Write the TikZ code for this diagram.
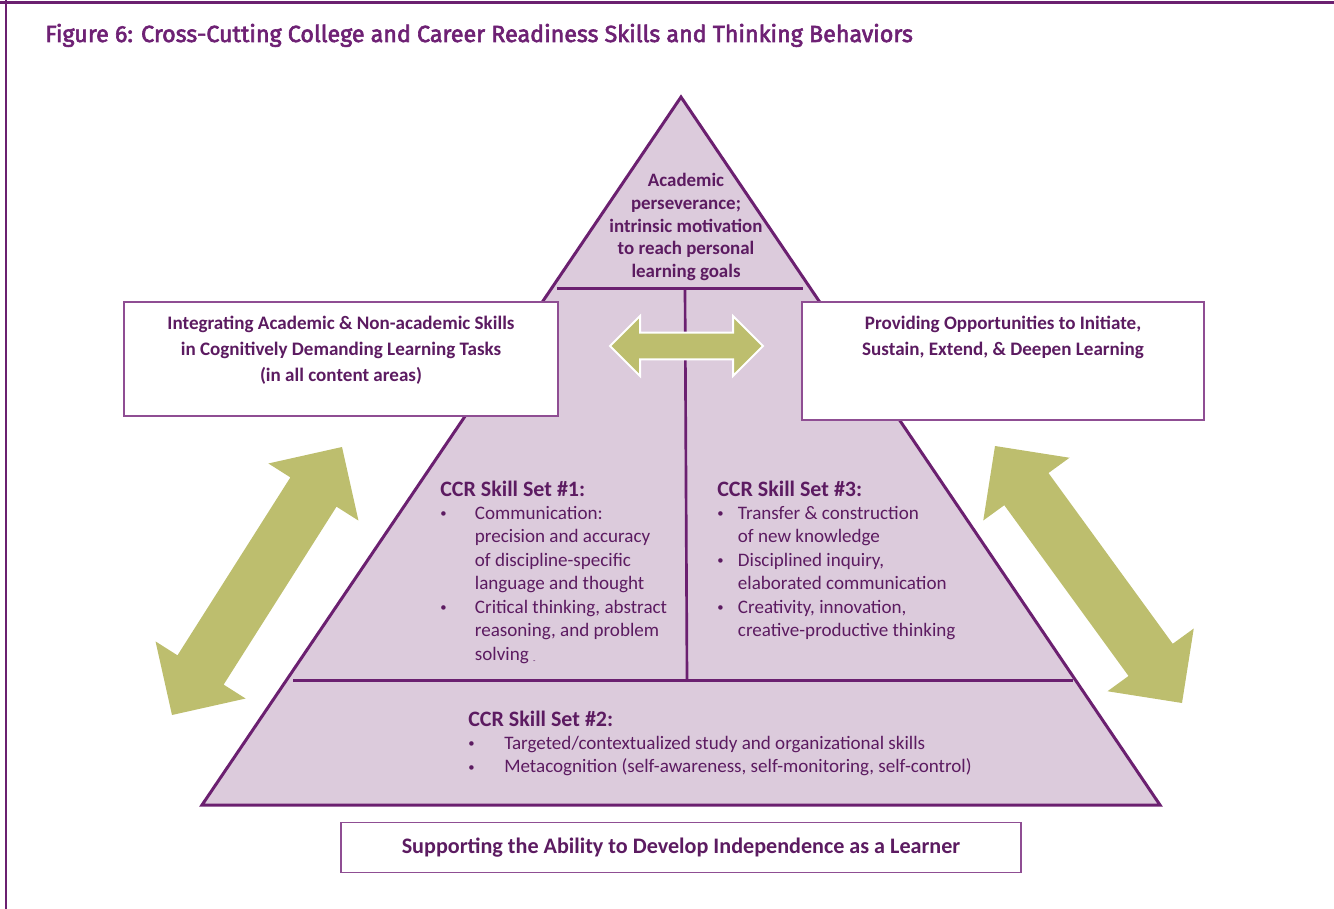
\documentclass[tikz,border=0pt]{standalone}
\usepackage{fontspec}
\setmainfont{Carlito}
\newfontfamily\headingfont[FakeBold=2.6]{Fira Sans}
\usetikzlibrary{calc}

\definecolor{plum}{HTML}{6B2070}
\definecolor{plumtext}{HTML}{5C1B61}
\definecolor{titleplum}{HTML}{6E2174}
\definecolor{lilac}{HTML}{DCCBDC}
\definecolor{boxline}{HTML}{8F4E93}
\definecolor{olive}{HTML}{BDBE6E}

% small list bullet
\newcommand\skillbullet{{\fontsize{9.5}{9.5}\selectfont\raisebox{1.2pt}{\textbullet}}}

% Double-headed block arrow between two tip coordinates:
% #1 style, #2/#3 tips, #4 head length, #5 head half width, #6 shaft half width
\newcommand\oliveArrow[6]{%
  \path ($(#2)!#4!(#3)$) coordinate (#2-base)
        ($(#3)!#4!(#2)$) coordinate (#3-base);
  \path[#1] (#2)
    -- ($(#2-base)!#5!90:(#3)$) -- ($(#2-base)!#6!90:(#3)$)
    -- ($(#3-base)!#6!-90:(#2)$) -- ($(#3-base)!#5!-90:(#2)$)
    -- (#3)
    -- ($(#3-base)!#5!90:(#2)$) -- ($(#3-base)!#6!90:(#2)$)
    -- ($(#2-base)!#6!-90:(#3)$) -- ($(#2-base)!#5!-90:(#3)$)
    -- cycle;
}

\begin{document}
\begin{tikzpicture}[x=0.75pt,y=-0.75pt,
  tri/.style={fill=lilac, draw=plum, line width=2.25pt, line join=miter},
  divider/.style={draw=plum, line width=2.25pt},
  panel/.style={draw=boxline, fill=white, line width=1.1pt, inner sep=0pt},
  paneltext/.style={text=plumtext, font=\bfseries\fontsize{14.3}{19.5}\selectfont, align=center, inner sep=0pt},
  skilltext/.style={text=plumtext, inner sep=0pt, anchor=base west, font=\fontsize{14.3}{17.6}\selectfont},
  bigarrow/.style={fill=olive},
  midarrow/.style={fill=olive, draw=white, line width=1.5pt, line join=miter}]

\useasboundingbox (0,0) rectangle (1334,909);

% page frame
\draw[plum, line width=2.25pt] (0,2.5) -- (1334,2.5);
\draw[plum, line width=1.6pt] (6,0) -- (6,909);

% title
\node[anchor=base west, inner sep=0pt, text=titleplum,
      font=\headingfont\fontsize{17.45}{20}\selectfont] (title) at (45,42)
  {Figure 6: Cross-Cutting College and Career Readiness Skills and Thinking Behaviors};

% pyramid
\coordinate (apex) at (681,97);
\coordinate (bl) at (202,805);
\coordinate (br) at (1160,805);
\path[tri] (apex) -- (bl) -- (br) -- cycle;

\coordinate (tierL) at (557,288);
\coordinate (tierR) at (803,288);
\coordinate (baseL) at (293,680);
\coordinate (baseR) at (1073,680);
\coordinate (splitT) at (685,288);
\coordinate (splitB) at (687,680);
\draw[divider] (tierL) -- (tierR);
\draw[divider] (baseL) -- (baseR);
\draw[plum, line width=2pt] (splitT) -- (splitB);

% side panels
\node[panel, minimum width=325.5pt, minimum height=85.5pt] (lbox) at (341,359) {};
\node[panel, minimum width=301.5pt, minimum height=88.5pt] (rbox) at (1003,361) {};
\node[panel, minimum width=510pt, minimum height=37.5pt] (bbox) at (681,847.5) {};

\node[paneltext] (ltext) at (341,350)
  {Integrating Academic \& Non-academic Skills\\in Cognitively Demanding Learning Tasks\\(in all content areas)};
\node[paneltext] (rtext) at (1003,337)
  {Providing Opportunities to Initiate,\\Sustain, Extend, \& Deepen Learning};
\node[paneltext, font=\bfseries\fontsize{16.6}{19}\selectfont] (btext) at (681,848)
  {Supporting the Ability to Develop Independence as a Learner};

% arrows
\coordinate (hA) at (610,346);
\coordinate (hB) at (763,346);
\oliveArrow{midarrow}{hA}{hB}{22.5pt}{22.5pt}{10pt}

\coordinate (lA) at (172,715);
\coordinate (lB) at (342,447);
\oliveArrow{bigarrow}{lA}{lB}{40pt}{40pt}{20.5pt}

\coordinate (rA) at (995,446);
\coordinate (rB) at (1182,703);
\oliveArrow{bigarrow}{rA}{rB}{40pt}{40pt}{20.5pt}

% pyramid texts
\node[paneltext, font=\bfseries\fontsize{14.2}{17}\selectfont] (peak) at (686,227)
  {Academic\\perseverance;\\intrinsic motivation\\to reach personal\\learning goals};

\node[skilltext] (set1) at (440,496) {%
  \begin{tabular}[t]{@{}p{26pt}@{}l@{}}
  \multicolumn{2}{@{}l@{}}{\bfseries\fontsize{16.5}{17.6}\selectfont CCR Skill Set \#1:}\\
  \skillbullet & Communication:\\
  & precision and accuracy\\
  & of discipline-specific\\
  & language and thought\\
  \skillbullet & Critical thinking, abstract\\
  & reasoning, and problem\\
  & solving {\fontsize{6}{6}\selectfont\raisebox{-2.5pt}{-}}
  \end{tabular}};

\node[skilltext] (set3) at (717,496) {%
  \begin{tabular}[t]{@{}p{15.5pt}@{}l@{}}
  \multicolumn{2}{@{}l@{}}{\bfseries\fontsize{16.5}{17.6}\selectfont CCR Skill Set \#3:}\\
  \skillbullet & Transfer \& construction\\
  & of new knowledge\\
  \skillbullet & Disciplined inquiry,\\
  & elaborated communication\\
  \skillbullet & Creativity, innovation,\\
  & creative-productive thinking
  \end{tabular}};

\node[skilltext] (set2) at (468,726) {%
  \begin{tabular}[t]{@{}p{27pt}@{}l@{}}
  \multicolumn{2}{@{}l@{}}{\bfseries\fontsize{16.5}{17.6}\selectfont CCR Skill Set \#2:}\\
  \skillbullet & Targeted/contextualized study and organizational skills\\
  \skillbullet & Metacognition (self-awareness, self-monitoring, self-control)
  \end{tabular}};

\end{tikzpicture}
\end{document}
